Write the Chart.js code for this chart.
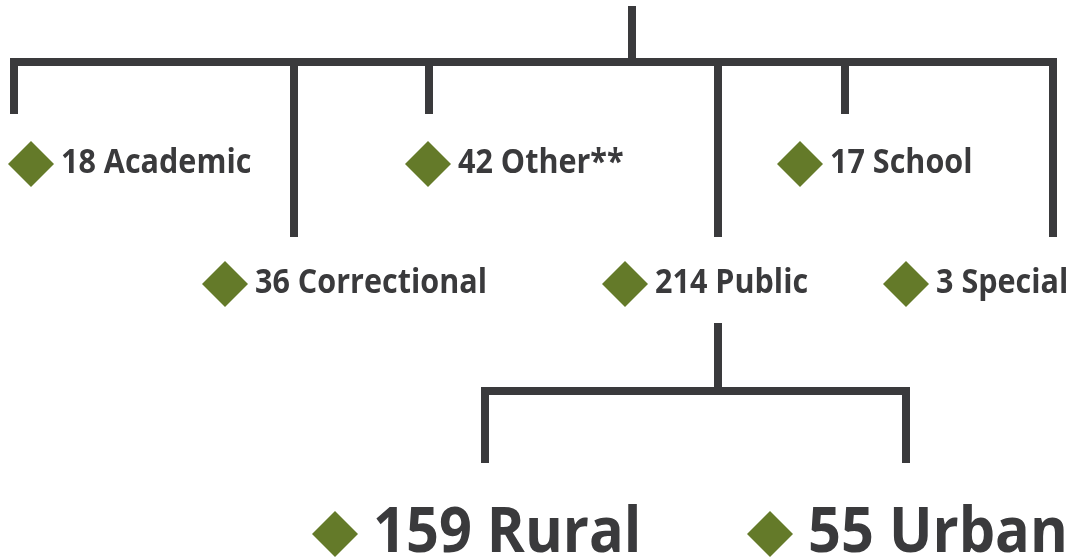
<!DOCTYPE html>
<html>
<head>
<meta charset="utf-8">
<script src="https://cdn.jsdelivr.net/npm/chart.js@4/dist/chart.umd.min.js"></script>
<style>
  html, body { margin: 0; padding: 0; background: #fff; }
  #tree { display: block; }
</style>
</head>
<body>
<canvas id="tree" width="1068" height="559"></canvas>
<script>
/* ---- data ---- */
const categories = ["Academic", "Correctional", "Other**", "Public", "School", "Special"];
const counts = [18, 36, 42, 214, 17, 3];
const publicParts = ["Rural", "Urban"];
const publicCounts = [159, 55];

/* ---- layout (diagram geometry, px) ---- */
const barY = 62;
const rootTop = 6;
const dropX = [14, 294, 429, 718, 845, 1053];
const dropEnd = [114, 237, 114, 237, 114, 237];
const markX = [31, 225, 428, 625, 800, 906];
const rowY = [164, 284];
const rowOf = [0, 1, 0, 1, 0, 1];

const subStem = { x: 718, top: 323 };
const subBarY = 391;
const subDropX = [485, 906];
const subDropEnd = 463;
const subMarkX = [335, 770];
const subMarkY = 534;

const LINE = "#3a3a3c";
const GREEN = "#647a29";
const TEXT = "#3a3a3c";

const $ = (id) => document.getElementById(id);

const seg = (pts) => ({
  type: "scatter",
  showLine: true,
  data: pts.map(([x, y]) => ({ x, y })),
  borderColor: LINE,
  borderWidth: 8,
  borderCapStyle: "butt",
  borderJoinStyle: "miter",
  pointRadius: 0,
  fill: false,
  tension: 0
});

/* lines of the tree */
const lines = [];
lines.push(seg([[632, rootTop], [632, barY]]));
const last = dropX.length - 1;
lines.push(seg([[dropX[0], dropEnd[0]], [dropX[0], barY], [dropX[last], barY], [dropX[last], dropEnd[last]]]));
for (let i = 1; i < last; i++) lines.push(seg([[dropX[i], barY], [dropX[i], dropEnd[i]]]));
lines.push(seg([[subStem.x, subStem.top], [subStem.x, subBarY]]));
lines.push(seg([[subDropX[0], subDropEnd], [subDropX[0], subBarY], [subDropX[1], subBarY], [subDropX[1], subDropEnd]]));

/* diamonds */
const topMarks = {
  type: "scatter",
  data: categories.map((c, i) => ({ x: markX[i], y: rowY[rowOf[i]] })),
  labels: categories.map((c, i) => counts[i] + " " + c),
  labelStyle: { size: 34.5, sx: 0.885, dx: 30, dy: 9 },
  pointStyle: "rectRot",
  pointRadius: 23,
  backgroundColor: GREEN,
  borderWidth: 0
};
const subMarks = {
  type: "scatter",
  data: publicParts.map((c, i) => ({ x: subMarkX[i], y: subMarkY })),
  labels: publicParts.map((c, i) => publicCounts[i] + " " + c),
  labelStyle: { size: 63, sx: 0.915, dx: 38, dy: 17.5 },
  pointStyle: "rectRot",
  pointRadius: 23,
  backgroundColor: GREEN,
  borderWidth: 0
};

const labelPlugin = {
  id: "nodeLabels",
  afterDatasetsDraw(chart) {
    const ctx = chart.ctx;
    chart.data.datasets.forEach((ds, di) => {
      if (!ds.labels) return;
      const st = ds.labelStyle;
      chart.getDatasetMeta(di).data.forEach((pt, i) => {
        ctx.save();
        ctx.translate(pt.x + st.dx, pt.y + st.dy);
        ctx.scale(st.sx, 1);
        ctx.font = `bold ${st.size}px "Open Sans", Lato, sans-serif`;
        ctx.fillStyle = TEXT;
        ctx.textAlign = "left";
        ctx.textBaseline = "alphabetic";
        ctx.fillText(ds.labels[i], 0, 0);
        ctx.restore();
      });
    });
  }
};

new Chart($("tree"), {
  type: "scatter",
  data: { datasets: [...lines, topMarks, subMarks] },
  options: {
    responsive: false,
    animation: false,
    events: [],
    layout: { padding: 0, autoPadding: false },
    plugins: { legend: { display: false }, tooltip: { enabled: false } },
    scales: {
      x: { type: "linear", min: 0, max: 1068, display: false },
      y: { type: "linear", min: 0, max: 559, reverse: true, display: false }
    }
  },
  plugins: [labelPlugin]
});
</script>
</body>
</html>
